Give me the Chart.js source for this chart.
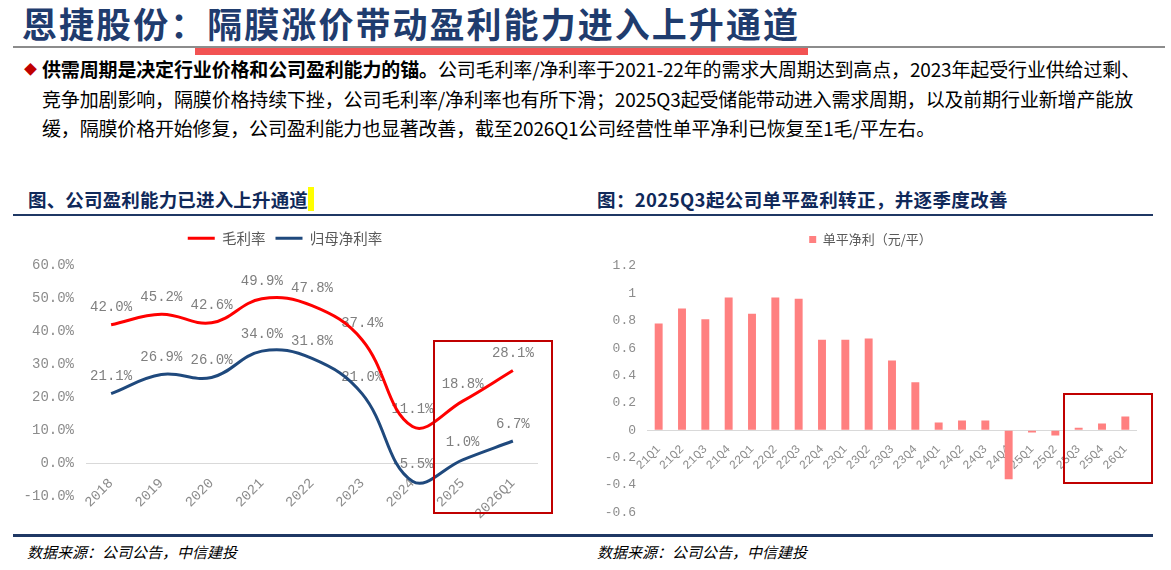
<!DOCTYPE html>
<html>
<head>
<meta charset="utf-8">
<script src="https://cdn.jsdelivr.net/npm/chart.js@4.4.0/dist/chart.umd.min.js"></script>
<style>
body{margin:0;width:1171px;height:570px;background:#fff;position:relative;overflow:hidden;font-family:"Noto Sans CJK SC",sans-serif}
.abs{position:absolute;white-space:nowrap}
#title{left:22px;top:0;font-size:35px;line-height:45px;font-weight:bold;color:#1f3c6e}
.rule{position:absolute}
.body{left:42px;font-size:19px;line-height:29px;color:#000}
.head{top:186px;font-size:18.5px;line-height:26px;font-weight:bold;color:#10295a}
.foot{top:541px;font-size:15px;line-height:22px;font-style:italic;color:#000}
.box{position:absolute;border:2px solid #c00000;box-sizing:border-box;pointer-events:none}
.wrap{position:absolute}
</style>
</head>
<body>
<div id="title" class="abs">恩捷股份：隔膜涨价带动盈利能力进入上升通道</div>
<div class="rule" style="left:13px;top:46px;width:1152px;height:1.5px;background:#8c8c8c"></div>
<div class="rule" style="left:195px;top:48px;width:613px;height:7px;background:#f25353"></div>

<div class="abs" style="left:24px;top:58px;font-size:13px;line-height:22px;color:#c00000">◆</div>
<div id="l1" class="abs body" style="top:54px"><b>供需周期是决定行业价格和公司盈利能力的锚。</b>公司毛利率/净利率于2021-22年的需求大周期达到高点，2023年起受行业供给过剩、</div>
<div id="l2" class="abs body" style="top:84px">竞争加剧影响，隔膜价格持续下挫，公司毛利率/净利率也有所下滑；2025Q3起受储能带动进入需求周期，以及前期行业新增产能放</div>
<div id="l3" class="abs body" style="top:113px">缓，隔膜价格开始修复，公司盈利能力也显著改善，截至2026Q1公司经营性单平净利已恢复至1毛/平左右。</div>

<div id="h1" class="abs head" style="left:28px">图、公司盈利能力已进入上升通道</div>
<div class="rule" style="left:308px;top:187px;width:6px;height:24px;background:#ffff00"></div>
<div id="h2" class="abs head" style="left:597px">图：2025Q3起公司单平盈利转正，并逐季度改善</div>
<div class="rule" style="left:13px;top:214px;width:1140px;height:2px;background:#1f3864"></div>

<div class="wrap" style="left:0;top:221px;width:580px;height:310px"><canvas id="marginChart"></canvas></div>
<div class="wrap" style="left:580px;top:223px;width:591px;height:308px"><canvas id="unitChart"></canvas></div>

<div class="box" style="left:433px;top:340px;width:120px;height:174px"></div>
<div class="box" style="left:1063px;top:393px;width:90px;height:91px"></div>

<div class="rule" style="left:13px;top:534px;width:1140px;height:2.5px;background:#1f3864"></div>
<div class="abs foot" style="left:27px">数据来源：公司公告，中信建投</div>
<div class="abs foot" style="left:597px">数据来源：公司公告，中信建投</div>

<script>
// 左图：毛利率 / 归母净利率（%）
const years=['2018','2019','2020','2021','2022','2023','2024','2025','2026Q1'];
const grossMargin=[42.0,45.2,42.6,49.9,47.8,37.4,11.1,18.8,28.1];
const netMargin=[21.1,26.9,26.0,34.0,31.8,21.0,-5.5,1.0,6.7];
const marginTicks={min:-10,max:60,step:10};

// 右图：单平净利（元/平）
const quarters=['21Q1','21Q2','21Q3','21Q4','22Q1','22Q2','22Q3','22Q4','23Q1','23Q2','23Q3','23Q4','24Q1','24Q2','24Q3','24Q4','25Q1','25Q2','25Q3','25Q4','26Q1'];
const unitProfit=[0.78,0.89,0.81,0.97,0.85,0.97,0.96,0.66,0.66,0.67,0.51,0.35,0.055,0.07,0.07,-0.36,-0.017,-0.04,0.017,0.048,0.099];
const unitTicks={min:-0.6,max:1.2,step:0.2};

function fitWidth(id,w){
const el=document.getElementById(id);
const n=el.textContent.length;
const cur=el.getBoundingClientRect().width;
el.style.letterSpacing=((w-cur)/n)+'px';
}
fitWidth('title',778);
fitWidth('l1',1098);
fitWidth('l2',1091);
fitWidth('l3',893);
fitWidth('h1',280);
fitWidth('h2',411);

const tickGray='#8c8c8c';
const mono='"Liberation Mono", monospace';
const zeroLine=c=>c.tick.value===0?'#d9d9d9':'rgba(0,0,0,0)';

// 图例和绘图区之间留点空，图例可以左右挪一点
const legendGap=(gap,dx)=>({id:'legendGap',
beforeInit(chart){
if(!chart.legend)return;
const fit=chart.legend.fit;
chart.legend.fit=function(){fit.call(this);this.height+=gap;};
},
afterLayout(chart){
if(!chart.legend||!dx)return;
chart.legend.left+=dx;
chart.legend.right+=dx;
}});

// 数据标签画在线下面
const pointLabels={id:'pointLabels',beforeDatasetsDraw(chart){
const ctx=chart.ctx;
ctx.save();
ctx.font='14px '+mono;
ctx.fillStyle='#7f7f7f';
ctx.textAlign='center';
ctx.textBaseline='middle';
chart.data.datasets.forEach((ds,i)=>{
chart.getDatasetMeta(i).data.forEach((pt,j)=>{
ctx.fillText(ds.data[j].toFixed(1)+'%',pt.x,pt.y-17);
});
});
ctx.restore();
}};

new Chart(document.getElementById('marginChart'),{
type:'line',
data:{labels:years,datasets:[
{label:'毛利率',data:grossMargin,borderColor:'#ff0000',backgroundColor:'#ff0000',borderWidth:3,pointRadius:0,tension:0.4},
{label:'归母净利率',data:netMargin,borderColor:'#1f497d',backgroundColor:'#1f497d',borderWidth:3,pointRadius:0,tension:0.4}
]},
options:{responsive:true,maintainAspectRatio:false,animation:false,
layout:{padding:{left:0,right:42,top:0,bottom:35}},
scales:{
x:{position:{y:0},offset:true,grid:{display:false},border:{display:false},
ticks:{minRotation:45,maxRotation:45,autoSkip:false,color:tickGray,font:{family:mono,size:14},padding:4}},
y:{min:marginTicks.min,max:marginTicks.max,border:{display:false},grid:{drawTicks:false,color:zeroLine},
ticks:{stepSize:marginTicks.step,callback:v=>v.toFixed(1)+'%',color:tickGray,font:{family:mono,size:14},padding:12},
afterFit:s=>{s.width=86;}}
},
plugins:{
legend:{labels:{usePointStyle:true,pointStyle:'line',pointStyleWidth:27,color:'#595959',font:{family:'"Noto Sans CJK SC"',size:14.5}}},
tooltip:{enabled:false}
}},
plugins:[pointLabels,legendGap(10,16)]
});

new Chart(document.getElementById('unitChart'),{
type:'bar',
data:{labels:quarters,datasets:[
{label:'单平净利（元/平）',data:unitProfit,backgroundColor:'#ff8080',barPercentage:0.34,categoryPercentage:1}
]},
options:{responsive:true,maintainAspectRatio:false,animation:false,
layout:{padding:{left:0,right:34,top:0,bottom:17}},
scales:{
x:{position:{y:0},grid:{display:false},border:{display:false},
ticks:{minRotation:45,maxRotation:45,autoSkip:false,color:tickGray,font:{family:mono,size:12},padding:4}},
y:{min:unitTicks.min,max:unitTicks.max,border:{display:false},grid:{drawTicks:false,color:zeroLine},
ticks:{stepSize:unitTicks.step,callback:v=>String(+v.toFixed(1)),color:tickGray,font:{family:mono,size:13},padding:11},
afterFit:s=>{s.width=67;}}
},
plugins:{
legend:{labels:{boxWidth:7,boxHeight:7,color:'#595959',font:{family:'"Noto Sans CJK SC"',size:13}}},
tooltip:{enabled:false}
}},
plugins:[legendGap(10,12)]
});
</script>
</body>
</html>
